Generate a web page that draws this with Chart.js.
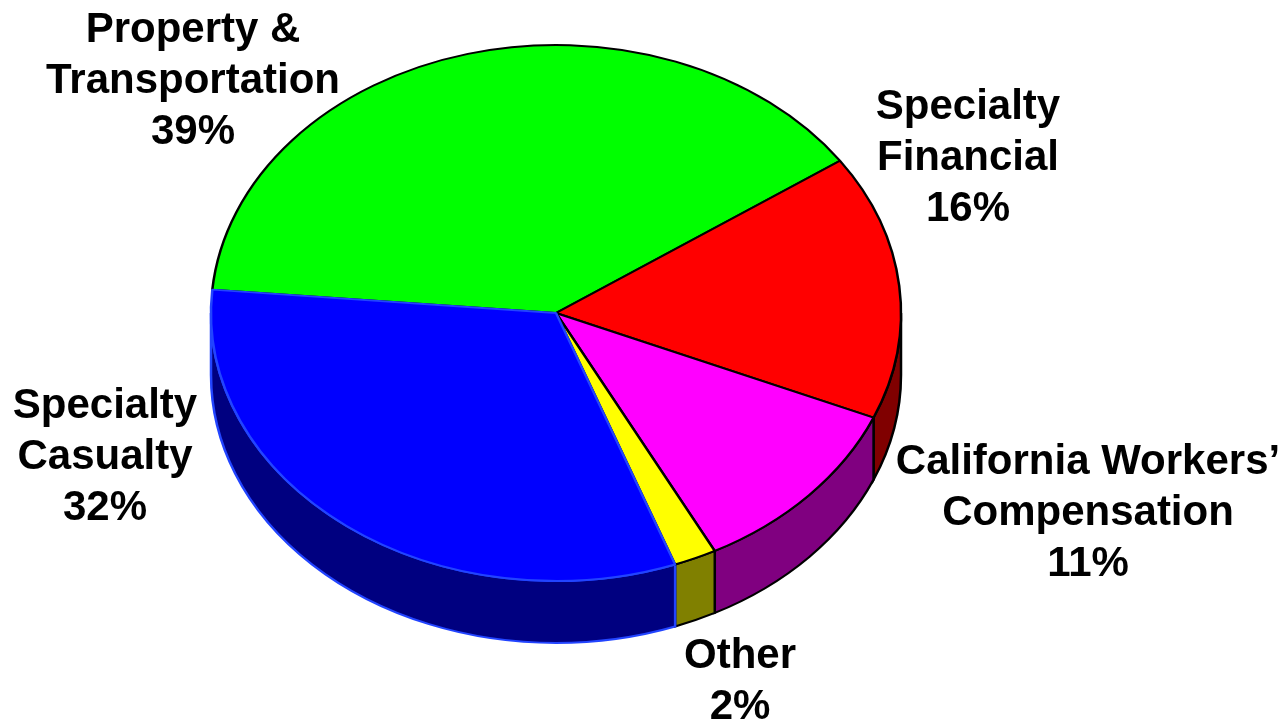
<!DOCTYPE html>
<html>
<head>
<meta charset="utf-8">
<script src="https://cdn.jsdelivr.net/npm/chart.js@4/dist/chart.umd.min.js"></script>
<style>
  html, body { margin: 0; padding: 0; background: #fff; }
  #wrap { width: 1286px; height: 721px; position: relative; }
</style>
</head>
<body>
<div id="wrap"><canvas id="pie"></canvas></div>
<script>
// data
const categories = [
    ['Property &', 'Transportation'],
    ['Specialty', 'Financial'],
    ['California Workers\u2019', 'Compensation'],
    ['Other'],
    ['Specialty', 'Casualty']
];
const shares = [39, 16, 11, 2, 32];

// styling
const topColors = ['#00ff00', '#ff0000', '#ff00ff', '#ffff00', '#0000ff'];
const sideColors = ['#008000', '#800000', '#800080', '#808000', '#000080'];
const edgeColors = ['#000000', '#000000', '#000000', '#000000', '#2244ff'];

// label anchors: centre x, first baseline y
const labelPos = [[193, 42], [968, 119], [1088, 474], [740, 668], [105, 418]];
const lineHeight = 51;

const tilt = 268 / 345;   // vertical squash of the top face
const depth = 62;         // screen px of the side wall
const centerY = 313;      // where the pie centre sits on screen

const pie3d = {
    id: 'pie3d',
    beforeDatasetsDraw(chart) {
        const ctx = chart.ctx;
        const arcs = chart.getDatasetMeta(0).data;
        const cx = arcs[0].x, cy = arcs[0].y, r = arcs[0].outerRadius;
        const d = depth / tilt;
        ctx.save();
        ctx.translate(cx, centerY);
        ctx.scale(1, tilt);
        ctx.translate(-cx, -cy);

        const TAU = Math.PI * 2;
        arcs.forEach((arc, i) => {
            let s = arc.startAngle % TAU;
            if (s < 0) s += TAU;
            const e = s + (arc.endAngle - arc.startAngle);
            [[0, Math.PI], [TAU, TAU + Math.PI]].forEach(([lo, hi]) => {
                const a = Math.max(s, lo), b = Math.min(e, hi);
                if (b <= a) return;
                ctx.beginPath();
                ctx.arc(cx, cy, r, a, b);
                ctx.lineTo(cx + r * Math.cos(b), cy + r * Math.sin(b) + d);
                ctx.arc(cx, cy + d, r, b, a, true);
                ctx.closePath();
                ctx.fillStyle = sideColors[i];
                ctx.fill();
                ctx.lineWidth = 2.5;
                ctx.strokeStyle = edgeColors[i];
                ctx.stroke();
            });
        });
    },
    afterDatasetsDraw(chart) {
        chart.ctx.restore();
    },
    afterDraw(chart) {
        const ctx = chart.ctx;
        const total = shares.reduce((a, b) => a + b, 0);
        ctx.save();
        ctx.fillStyle = '#000';
        ctx.font = 'bold 42px "Liberation Sans", Arial, sans-serif';
        ctx.textAlign = 'center';
        ctx.textBaseline = 'alphabetic';
        categories.forEach((lines, i) => {
            const all = lines.concat([Math.round(shares[i] / total * 100) + '%']);
            const [x, y] = labelPos[i];
            all.forEach((t, j) => ctx.fillText(t, x, y + j * lineHeight));
        });
        ctx.restore();
    }
};

new Chart(document.getElementById('pie'), {
    type: 'pie',
    data: {
        labels: categories.map(l => l.join(' ')),
        datasets: [{
            data: shares,
            backgroundColor: topColors,
            borderColor: edgeColors,
            borderWidth: 2.5,
            radius: 345,
            clip: false
        }]
    },
    options: {
        responsive: true,
        maintainAspectRatio: false,
        animation: false,
        rotation: 275,
        layout: { padding: { left: 0, right: 174, top: 0, bottom: 0 } },
        plugins: {
            legend: { display: false },
            tooltip: { enabled: false }
        },
        events: []
    },
    plugins: [pie3d]
});
</script>
</body>
</html>
